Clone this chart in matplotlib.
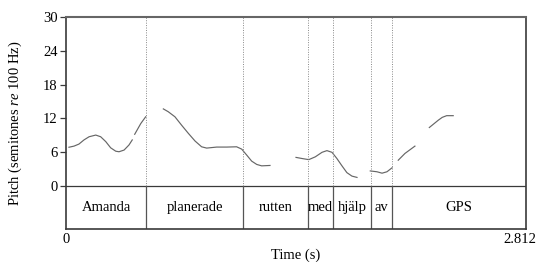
import matplotlib
matplotlib.use("Agg")
import matplotlib.pyplot as plt
import matplotlib.transforms as mtransforms

plt.rcParams['font.family'] = ['Liberation Serif', 'DejaVu Serif']
plt.rcParams['mathtext.fontset'] = 'custom'
plt.rcParams['mathtext.rm'] = 'Liberation Serif'
plt.rcParams['mathtext.it'] = 'Liberation Serif:italic'

# Pitch contour segments (time s, semitones re 100 Hz)
seg_times = [
    [0.018, 0.049, 0.079, 0.110, 0.141, 0.182, 0.212, 0.243, 0.273, 0.304, 0.324, 0.355, 0.385, 0.405],
    [0.420, 0.457, 0.487],
    [0.595, 0.625, 0.666, 0.707, 0.748, 0.789, 0.829, 0.860, 0.921, 0.982, 1.043, 1.074, 1.105,
     1.135, 1.166, 1.196, 1.247],
    [1.406, 1.443, 1.484, 1.524, 1.565, 1.595, 1.626, 1.656, 1.687, 1.717, 1.748, 1.779],
    [1.860, 1.901, 1.932, 1.962, 1.993],
    [2.031, 2.072, 2.133],
    [2.221, 2.276, 2.300, 2.327, 2.367],
]
seg_pitch = [
    [6.9, 7.1, 7.46, 8.2, 8.76, 9.06, 8.76, 7.9, 6.8, 6.2, 6.1, 6.4, 7.3, 8.2],
    [9.2, 11.1, 12.3],
    [13.7, 13.2, 12.3, 10.8, 9.36, 8.0, 6.98, 6.75, 6.93, 6.93, 6.98, 6.57, 5.5,
     4.44, 3.85, 3.6, 3.67],
    [5.1, 4.9, 4.7, 5.2, 6.0, 6.3, 6.0, 4.9, 3.6, 2.4, 1.78, 1.55],
    [2.7, 2.55, 2.3, 2.55, 3.25],
    [4.6, 5.8, 7.1],
    [10.4, 11.7, 12.2, 12.5, 12.5],
]

words = ["Amanda", "planerade", "rutten", "med", "hjälp", "av", "GPS"]
bounds = [0.0, 0.489, 1.084, 1.479, 1.634, 1.862, 1.995, 2.812]
yticks = [0, 6, 12, 18, 24, 30]
t_end = 2.812
y_min = -7.6

fs = 10.5
fig = plt.figure(figsize=(5.41, 2.62), dpi=100)
ax = fig.add_axes([66/541, 33/262, 460/541, 212/262])

frame_col = '#3a3a3a'
for s in ax.spines.values():
    s.set_color(frame_col)
    s.set_linewidth(1.2)
ax.spines['top'].set_color('#666666')
ax.spines['top'].set_linewidth(1.5)

for t, p in zip(seg_times, seg_pitch):
    ax.plot(t, p, color='#666666', lw=0.85, solid_joinstyle='round')

ax.axhline(0, color=frame_col, lw=0.9)
for b in bounds[1:-1]:
    ax.plot([b, b], [0, 30], color='#888888', lw=0.7, ls=(0, (1, 1.5)))
    ax.plot([b, b], [y_min, 0], color='#555555', lw=0.9)

for i, w in enumerate(words):
    ax.text((bounds[i] + bounds[i+1]) / 2, -3.85, w, ha='center', va='center', fontsize=fs)

ax.set_xlim(0, t_end)
ax.set_ylim(y_min, 30)
ax.set_yticks(yticks)
ax.set_yticklabels([str(v) for v in yticks], fontsize=fs)
ax.set_xticks([0, t_end])
ax.set_xticklabels(["0", "2.812"], fontsize=fs)
ax.tick_params(axis='x', length=0, pad=3)
ax.tick_params(axis='y', length=4, width=0.9, color=frame_col, pad=2)
lbl = ax.get_xticklabels()[1]
lbl.set_transform(lbl.get_transform() + mtransforms.ScaledTranslation(-6/100, 0, fig.dpi_scale_trans))

ax.set_xlabel("Time (s)", fontsize=fs, labelpad=2)
ax.set_ylabel(r"Pitch (semitones $\mathit{re}$ 100 Hz)", fontsize=fs, labelpad=14)

fig.savefig("out.png", dpi=100)
